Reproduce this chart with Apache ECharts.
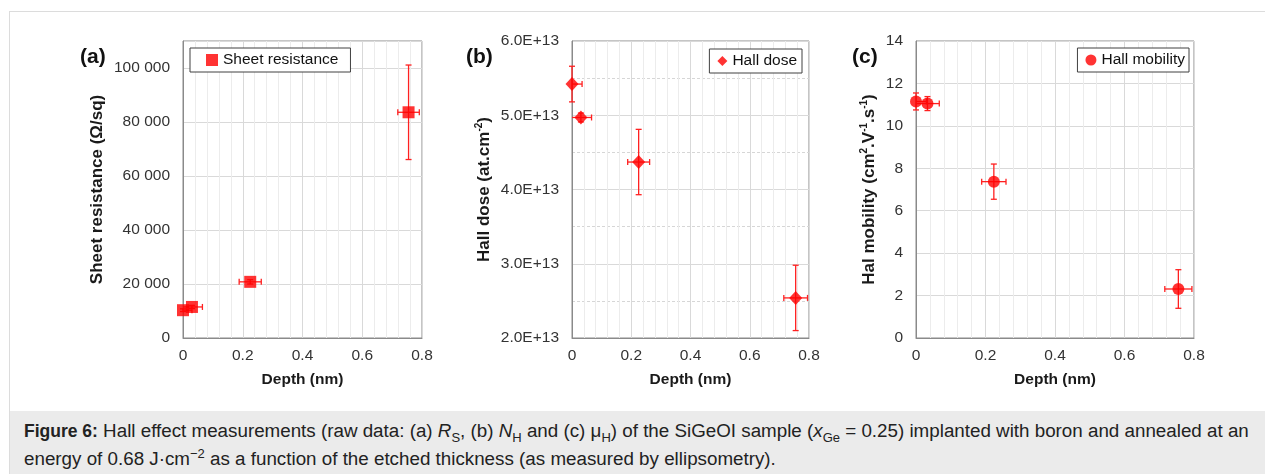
<!DOCTYPE html>
<html>
<head>
<meta charset="utf-8">
<script src="https://cdn.jsdelivr.net/npm/echarts@6/dist/echarts.min.js"></script>
<style>
  html, body { margin: 0; padding: 0; background: #fff; }
  #wrap { position: relative; width: 1265px; height: 474px; overflow: hidden; font-family: 'Liberation Sans', Arial, sans-serif; }
  #frameTop { position: absolute; left: 9px; top: 11px; width: 1256px; height: 0; border-top: 1px solid #dcdcdc; }
  #frameLeft { position: absolute; left: 9px; top: 11px; width: 0; height: 463px; border-left: 1px solid #dcdcdc; }
  #capbg { position: absolute; left: 10px; top: 411px; width: 1255px; height: 63px; background: #ebebeb; }
  #caption { position: absolute; left: 24px; top: 417px; width: 1240px; font-size: 18.8px; line-height: 27px; color: #222; white-space: nowrap; }
  #caption b { font-size: 17.5px; }
  #caption sub, #caption sup { font-size: 13px; line-height: 0; }
  #chart { position: absolute; left: 0; top: 0; width: 1265px; height: 410px; }
</style>
</head>
<body>
<div id="wrap">
  <div id="frameTop"></div>
  <div id="frameLeft"></div>
  <div id="capbg"></div>
  <div id="caption"><b>Figure 6:</b> Hall effect measurements (raw data: (a) <i>R</i><sub>S</sub>, (b) <i>N</i><sub>H</sub> and (c) μ<sub>H</sub>) of the SiGeOI sample (<i>x</i><sub>Ge</sub> = 0.25) implanted with boron and annealed at an<br>energy of 0.68 J·cm<sup>−2</sup> as a function of the etched thickness (as measured by ellipsometry).</div>
  <div id="chart"></div>
</div>
<script>
// ---- Data ----
const depthTicks = [0, 0.2, 0.4, 0.6, 0.8];

// (a) Sheet resistance (Ω/sq)
const aDepth = [0, 0.03, 0.225, 0.755];
const aValue = [10300, 11500, 20800, 83600];
const aDepthErr = [0.03, 0.035, 0.037, 0.036];
const aValueErr = [500, 600, 800, 17500];

// (b) Hall dose (at.cm-2)
const bDepth = [0, 0.03, 0.225, 0.755];
const bValue = [5.42e13, 4.97e13, 4.37e13, 2.54e13];
const bDepthErr = [0.034, 0.036, 0.037, 0.04];
const bValueErr = [0.24e13, 0.06e13, 0.44e13, 0.44e13];

// (c) Hall mobility (cm2.V-1.s-1)
const cDepth = [0, 0.033, 0.224, 0.755];
const cValue = [11.15, 11.05, 7.37, 2.31];
const cDepthErr = [0.03, 0.034, 0.035, 0.039];
const cValueErr = [0.4, 0.33, 0.83, 0.91];

const seriesNames = ['Sheet resistance', 'Hall dose', 'Hall mobility'];
const panelLabels = ['(a)', '(b)', '(c)'];

// ---- Styles ----
const FONT = 'Liberation Sans';
const RED = '#ff0000';
const ERR = '#ff2020';

function pts(xs, ys) { return xs.map((x, i) => [x, ys[i]]); }
function errPts(xs, ys, ex, ey) { return xs.map((x, i) => [x, ys[i], ex[i], ey[i]]); }

function errRender(xMin) {
  return function (params, api) {
    const x = api.value(0), y = api.value(1), ex = api.value(2), ey = api.value(3);
    const c = api.coord([x, y]);
    const lo = x - ex;
    const xl = api.coord([Math.max(lo, xMin), y]);
    const xr = api.coord([x + ex, y]);
    const yt = api.coord([x, y + ey]);
    const yb = api.coord([x, y - ey]);
    const cap = 3;
    const st = { stroke: ERR, lineWidth: 1.3 };
    const ch = [
      { type: 'line', shape: { x1: xl[0], y1: c[1], x2: xr[0], y2: c[1] }, style: st },
      { type: 'line', shape: { x1: c[0], y1: yt[1], x2: c[0], y2: yb[1] }, style: st },
      { type: 'line', shape: { x1: xr[0], y1: c[1] - cap, x2: xr[0], y2: c[1] + cap }, style: st },
      { type: 'line', shape: { x1: c[0] - cap, y1: yt[1], x2: c[0] + cap, y2: yt[1] }, style: st },
      { type: 'line', shape: { x1: c[0] - cap, y1: yb[1], x2: c[0] + cap, y2: yb[1] }, style: st }
    ];
    if (lo >= xMin) {
      ch.push({ type: 'line', shape: { x1: xl[0], y1: c[1] - cap, x2: xl[0], y2: c[1] + cap }, style: st });
    }
    return { type: 'group', children: ch };
  };
}

const grids = [
  { left: 183, top: 41, width: 239, height: 297 },
  { left: 572, top: 41, width: 237, height: 297 },
  { left: 916, top: 41, width: 278, height: 297 }
].map(g => Object.assign(g, { show: true, borderColor: '#8a8a8a', borderWidth: 1, backgroundColor: 'transparent' }));

function xAxis(i) {
  return {
    gridIndex: i, type: 'value', min: depthTicks[0], max: depthTicks[depthTicks.length - 1], interval: 0.2,
    name: 'Depth (nm)', nameLocation: 'middle', nameGap: 34,
    nameTextStyle: { fontFamily: FONT, fontSize: 15.5, fontWeight: 'bold', color: '#1a1a1a' },
    axisLine: { show: true, lineStyle: { color: '#8a8a8a', width: 1 } },
    axisTick: { show: false },
    axisLabel: { fontFamily: FONT, fontSize: 15.5, color: '#333', margin: 10, formatter: v => String(+v.toFixed(1)) },
    splitLine: { show: true, lineStyle: { color: '#d9d9d9', width: 1 } },
    minorTick: { show: false, splitNumber: 5 },
    minorSplitLine: { show: true, lineStyle: { color: '#ececec', width: 1 } }
  };
}

const nameRich = {
  b: { fontFamily: FONT, fontSize: 17, fontWeight: 'bold', color: '#1a1a1a', lineHeight: 20 },
  s: { fontFamily: FONT, fontSize: 10, fontWeight: 'bold', color: '#1a1a1a', lineHeight: 11, verticalAlign: 'top' }
};

function yAxis(i, o) {
  return Object.assign({
    gridIndex: i, type: 'value',
    nameLocation: 'middle', nameRotate: 90,
    nameTextStyle: { rich: nameRich },
    axisLine: { show: true, lineStyle: { color: '#8a8a8a', width: 1 } },
    axisTick: { show: false },
    axisLabel: { fontFamily: FONT, fontSize: 15.5, color: '#333', margin: 13 },
    splitLine: { show: true, lineStyle: { color: '#d9d9d9', width: 1 } }
  }, o);
}

const legendBase = {
  orient: 'horizontal', borderColor: '#404040', borderWidth: 1, backgroundColor: '#fff',
  itemGap: 0, selectedMode: false,
  textStyle: { fontFamily: FONT, fontSize: 15.5, color: '#111' }
};

const option = {
  animation: false,
  backgroundColor: 'transparent',
  grid: grids,
  xAxis: [xAxis(0), xAxis(1), xAxis(2)],
  yAxis: [
    yAxis(0, {
      min: 0, max: 110000, interval: 20000,
      name: '{b|Sheet resistance (Ω/sq)}', nameGap: 76,
      axisLabel: { fontFamily: FONT, fontSize: 15.5, color: '#333', margin: 13, showMaxLabel: false,
        formatter: v => v >= 1000 ? Math.floor(v / 1000) + ' ' + String(v % 1000).padStart(3, '0') : String(v) }
    }),
    yAxis(1, {
      min: 2e13, max: 6e13, interval: 1e13,
      name: '{b|Hall dose (at.cm}{s|-2}{b|)}', nameGap: 78,
      axisLabel: { fontFamily: FONT, fontSize: 15.5, color: '#333', margin: 13,
        formatter: v => (v / 1e13).toFixed(1) + 'E+13' },
      minorTick: { show: false, splitNumber: 2 },
      minorSplitLine: { show: true, lineStyle: { color: '#d6d6d6', width: 1, type: [3, 2] } }
    }),
    yAxis(2, {
      min: 0, max: 14, interval: 2,
      name: '{b|Hal mobility (cm}{s|2}{b|.V}{s|-1}{b|.s}{s|-1}{b|)}', nameGap: 37
    })
  ],
  legend: [
    Object.assign({}, legendBase, { data: [seriesNames[0]], left: 190, top: 48, padding: [4, 12, 4, 16], itemWidth: 12, itemHeight: 12 }),
    Object.assign({}, legendBase, { data: [seriesNames[1]], right: 463, top: 49, padding: [4, 5, 4, 8], itemWidth: 10, itemHeight: 10 }),
    Object.assign({}, legendBase, { data: [seriesNames[2]], right: 76, top: 48, padding: [4, 4, 4, 8], itemWidth: 11, itemHeight: 11 })
  ],
  graphic: panelLabels.map((t, i) => ({
    type: 'text', left: [80, 466, 852][i], top: 47, z: 10,
    style: { text: t, fontFamily: FONT, fontSize: 21, fontWeight: 'bold', fill: '#111' }
  })),
  series: [
    { type: 'custom', name: 'errA', xAxisIndex: 0, yAxisIndex: 0, z: 2, renderItem: errRender(0),
      encode: { x: 0, y: 1 }, dimensions: ['x', 'y', 'ex', 'ey'], data: errPts(aDepth, aValue, aDepthErr, aValueErr), silent: true },
    { type: 'custom', name: 'errB', xAxisIndex: 1, yAxisIndex: 1, z: 2, renderItem: errRender(0),
      encode: { x: 0, y: 1 }, dimensions: ['x', 'y', 'ex', 'ey'], data: errPts(bDepth, bValue, bDepthErr, bValueErr), silent: true },
    { type: 'custom', name: 'errC', xAxisIndex: 2, yAxisIndex: 2, z: 2, renderItem: errRender(0),
      encode: { x: 0, y: 1 }, dimensions: ['x', 'y', 'ex', 'ey'], data: errPts(cDepth, cValue, cDepthErr, cValueErr), silent: true },
    { type: 'scatter', name: seriesNames[0], xAxisIndex: 0, yAxisIndex: 0, z: 5, symbol: 'rect', symbolSize: 12,
      itemStyle: { color: RED }, data: pts(aDepth, aValue) },
    { type: 'scatter', name: seriesNames[1], xAxisIndex: 1, yAxisIndex: 1, z: 5, symbol: 'diamond', symbolSize: [13, 14],
      itemStyle: { color: RED }, data: pts(bDepth, bValue) },
    { type: 'scatter', name: seriesNames[2], xAxisIndex: 2, yAxisIndex: 2, z: 5, symbol: 'circle', symbolSize: 12,
      itemStyle: { color: RED }, data: pts(cDepth, cValue) }
  ]
};

const chart = echarts.init(document.getElementById('chart'), null, { renderer: 'canvas' });
chart.setOption(option);
</script>
</body>
</html>
